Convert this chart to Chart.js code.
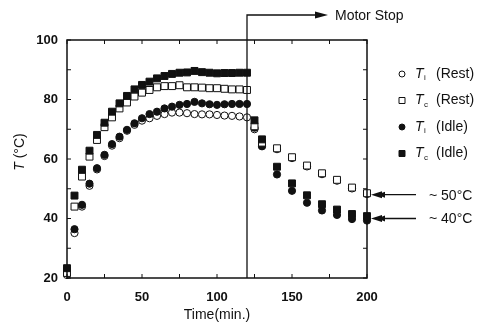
<!DOCTYPE html>
<html>
<head>
<meta charset="utf-8">
<script src="https://cdn.jsdelivr.net/npm/chart.js@4.4.1/dist/chart.umd.min.js"></script>
<style>
  html, body { margin: 0; padding: 0; background: #fff; }
  canvas { display: block; }
</style>
</head>
<body>
<canvas id="chart" width="483" height="324"></canvas>
<script>
'use strict';

// time (min.) for every reading
const TIME = [0, 5, 10, 15, 20, 25, 30, 35, 40, 45, 50, 55, 60, 65, 70, 75, 80, 85, 90, 95, 100, 105, 110, 115, 120,
  125, 130, 140, 150, 160, 170, 180, 190, 200];

const TI_REST = [21, 35.1, 44, 51, 56.5, 61, 64.5, 67, 69.5, 71.5, 72.9, 73.7, 74.5, 75.1, 75.6, 75.6, 75.4, 75.1, 75, 75, 74.8, 74.6, 74.5, 74.3, 74,
  70, 64.3, 63.3, 60.3, 57.5, 54.9, 52.7, 50.1, 48.2];
const TC_REST = [21.7, 44, 54.1, 60.8, 66.4, 70.7, 74, 77, 79, 81, 82.3, 83.2, 84.1, 84.5, 84.5, 84.8, 84.1, 84.1, 84, 83.8, 83.8, 83.6, 83.4, 83.4, 83.2,
  71, 65.5, 63.6, 60.6, 57.8, 55.2, 53, 50.4, 48.5];
const TI_IDLE = [23, 36.4, 44.6, 51.7, 56.9, 61.4, 65, 67.5, 69.8, 72, 73.7, 75.1, 75.9, 77, 77.6, 78.2, 78.5, 79.2, 78.7, 78.4, 78.2, 78.4, 78.5, 78.5, 78.5,
  70.5, 64.3, 54.8, 49.3, 45.3, 42.7, 41.2, 39.8, 39.3];
const TC_IDLE = [23.3, 47.7, 56.4, 62.8, 68.1, 72.2, 75.9, 78.7, 81.2, 83.4, 84.9, 86, 87.1, 87.9, 88.6, 89, 89.1, 89.6, 89.2, 89, 88.8, 88.9, 88.9, 89, 89,
  73, 66.6, 57.4, 51.8, 47.8, 44.8, 43, 41.5, 40.8];

const SERIES = [
  { sub: 'i', tag: '(Rest)', data: TI_REST, shape: 'circle', filled: false },
  { sub: 'c', tag: '(Rest)', data: TC_REST, shape: 'rect', filled: false },
  { sub: 'i', tag: '(Idle)', data: TI_IDLE, shape: 'circle', filled: true },
  { sub: 'c', tag: '(Idle)', data: TC_IDLE, shape: 'rect', filled: true }
];
const DRAW_ORDER = [3, 1, 2, 0];

const X_TICKS = [0, 50, 100, 150, 200];
const Y_TICKS = [20, 40, 60, 80, 100];
const MOTOR_STOP = 120;
const END_LABELS = [{ value: 48, text: '~ 50°C' }, { value: 40, text: '~ 40°C' }];

const INK = '#111';
const FONT = '"Liberation Sans", Arial, sans-serif';

function points(values) {
  return values.map((v, i) => ({ x: TIME[i], y: v }));
}

function marker(ctx, shape, filled, x, y) {
  ctx.beginPath();
  if (shape === 'circle') {
    ctx.arc(x, y, 3, 0, Math.PI * 2);
  } else {
    ctx.rect(x - 3, y - 3, 6, 6);
  }
  ctx.fillStyle = filled ? INK : '#fff';
  ctx.fill();
  ctx.lineWidth = 1;
  ctx.strokeStyle = INK;
  ctx.stroke();
}

function arrowHead(ctx, x, y, dir, len, half) {
  ctx.beginPath();
  ctx.moveTo(x, y);
  ctx.lineTo(x - dir * len, y - half);
  ctx.lineTo(x - dir * len, y + half);
  ctx.closePath();
  ctx.fill();
}

const decorations = {
  id: 'decorations',
  afterDraw(chart) {
    const ctx = chart.ctx;
    const a = chart.chartArea;
    const xs = chart.scales.x;
    const ys = chart.scales.y;
    ctx.save();
    ctx.strokeStyle = INK;
    ctx.fillStyle = INK;

    // frame
    ctx.lineWidth = 1.5;
    ctx.strokeRect(a.left, a.top, a.right - a.left, a.bottom - a.top);

    // inward tick marks
    ctx.lineWidth = 1;
    ctx.beginPath();
    for (let v = 0; v <= 200; v += 25) {
      const px = xs.getPixelForValue(v);
      ctx.moveTo(px, a.bottom); ctx.lineTo(px, a.bottom - 4);
      ctx.moveTo(px, a.top); ctx.lineTo(px, a.top + 4);
    }
    for (let v = 20; v <= 100; v += 10) {
      const py = ys.getPixelForValue(v);
      ctx.moveTo(a.left, py); ctx.lineTo(a.left + 4, py);
      ctx.moveTo(a.right, py); ctx.lineTo(a.right - 4, py);
    }
    ctx.stroke();

    // motor stop line and arrow
    const mx = xs.getPixelForValue(MOTOR_STOP);
    ctx.lineWidth = 1.3;
    ctx.beginPath();
    ctx.moveTo(mx, a.bottom);
    ctx.lineTo(mx, 15);
    ctx.lineTo(318, 15);
    ctx.stroke();
    arrowHead(ctx, 328, 15, 1, 13, 3.5);
    ctx.font = '14px ' + FONT;
    ctx.textBaseline = 'middle';
    ctx.textAlign = 'left';
    ctx.fillText('Motor Stop', 335, 16);

    // end temperature arrows
    END_LABELS.forEach(e => {
      const py = ys.getPixelForValue(e.value);
      ctx.beginPath();
      ctx.moveTo(378, py);
      ctx.lineTo(416, py);
      ctx.stroke();
      arrowHead(ctx, a.right + 4, py, -1, 11, 3.5);
      arrowHead(ctx, a.right + 10, py, -1, 8, 3);
      ctx.font = '14px ' + FONT;
      ctx.fillText(e.text, 429, py + 1);
    });

    // legend
    SERIES.forEach((s, i) => {
      const y = 74 + i * 26.5;
      marker(ctx, s.shape, s.filled, 402, y);
      ctx.fillStyle = INK;
      ctx.font = 'italic 14px ' + FONT;
      ctx.fillText('T', 415, y);
      ctx.font = '8px ' + FONT;
      ctx.fillText(s.sub, 424, y + 4);
      ctx.font = '14px ' + FONT;
      ctx.fillText(s.tag, 436, y);
    });

    // axis titles
    ctx.font = '14px ' + FONT;
    ctx.textAlign = 'center';
    ctx.fillText('Time(min.)', (a.left + a.right) / 2, 315);

    ctx.translate(20, 152);
    ctx.rotate(-Math.PI / 2);
    ctx.textAlign = 'left';
    ctx.font = 'italic 14px ' + FONT;
    const tw = ctx.measureText('T ').width;
    ctx.font = '14px ' + FONT;
    const rest = '(°C)';
    const total = tw + ctx.measureText(rest).width;
    ctx.font = 'italic 14px ' + FONT;
    ctx.fillText('T', -total / 2, 0);
    ctx.font = '14px ' + FONT;
    ctx.fillText(rest, -total / 2 + tw, 0);
    ctx.restore();
  }
};

new Chart(document.getElementById('chart'), {
  type: 'scatter',
  data: {
    datasets: SERIES.map((s, i) => ({
      label: 'T' + s.sub + ' ' + s.tag,
      data: points(s.data),
      pointStyle: s.shape,
      pointRadius: s.shape === 'rect' ? 4.9 : 3.6,
      pointBackgroundColor: s.filled ? INK : '#fff',
      pointBorderColor: INK,
      pointBorderWidth: 1,
      clip: false,
      order: DRAW_ORDER[i]
    }))
  },
  options: {
    responsive: false,
    animation: false,
    devicePixelRatio: 1,
    layout: { padding: { left: 0, top: 40, right: 116, bottom: 0 } },
    plugins: { legend: { display: false }, tooltip: { enabled: false } },
    scales: {
      x: {
        type: 'linear', min: 0, max: 200,
        afterFit: s => { s.height = 46; },
        afterBuildTicks: s => { s.ticks = X_TICKS.map(v => ({ value: v })); },
        grid: { display: false, drawTicks: false },
        border: { display: false },
        ticks: { color: INK, padding: 12, font: { family: FONT, size: 13, weight: 'bold' } }
      },
      y: {
        type: 'linear', min: 20, max: 100,
        afterFit: s => { s.width = 67; },
        afterBuildTicks: s => { s.ticks = Y_TICKS.map(v => ({ value: v })); },
        grid: { display: false, drawTicks: false },
        border: { display: false },
        ticks: { color: INK, padding: 9, font: { family: FONT, size: 13, weight: 'bold' } }
      }
    }
  },
  plugins: [decorations]
});
</script>
</body>
</html>
